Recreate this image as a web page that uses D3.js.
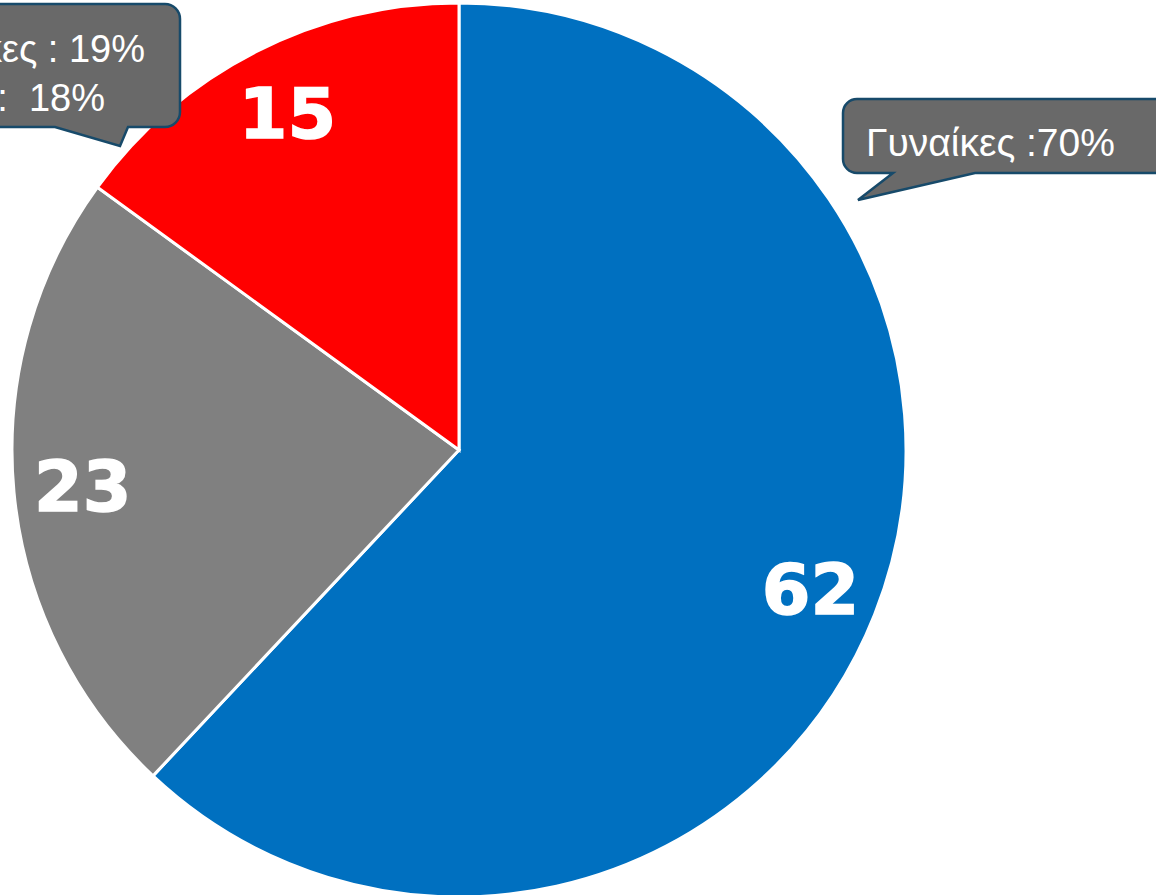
<!DOCTYPE html>
<html>
<head>
<meta charset="utf-8">
<script src="https://cdn.jsdelivr.net/npm/d3@7"></script>
<style>
  body { margin: 0; background: #fff; overflow: hidden; }
</style>
</head>
<body>
<div id="chart"></div>
<script>
// slice values, clockwise from 12 o'clock
const values = [62, 23, 15];
const sliceColors = ["#0070C0", "#808080", "#FF0000"];
// callout texts
const calloutRight = ["Γυναίκες :70%"];
const calloutLeft = ["Γυναίκες : 19%", "Άνδρες :  18%"];

const width = 1156, height = 895;
const cx = 459, cy = 450, radius = 447;

const svg = d3.select("#chart").append("svg")
    .attr("width", width)
    .attr("height", height);

const g = svg.append("g")
    .attr("transform", `translate(${cx},${cy})`);

const pie = d3.pie().sort(null).value(d => d);
const arc = d3.arc().innerRadius(0).outerRadius(radius);
const labelArc = d3.arc().innerRadius(378).outerRadius(378);

const arcs = pie(values);

g.selectAll("path.slice")
    .data(arcs)
    .enter().append("path")
    .attr("class", "slice")
    .attr("d", arc)
    .attr("fill", (d, i) => sliceColors[i])
    .attr("stroke", "#fff")
    .attr("stroke-width", 3);

g.selectAll("text.val")
    .data(arcs)
    .enter().append("text")
    .attr("class", "val")
    .attr("transform", d => `translate(${labelArc.centroid(d)})`)
    .attr("text-anchor", "middle")
    .attr("dy", "0.36em")
    .attr("fill", "#fff")
    .attr("stroke", "#fff")
    .attr("stroke-width", 1.5)
    .style("font-family", "'DejaVu Sans', sans-serif")
    .style("font-weight", "bold")
    .style("font-size", "70px")
    .text(d => d.data);

// rounded box with a wedge tail on its bottom edge
function callout(x0, y0, x1, y1, r, t0, t1, tip) {
    const p = d3.path();
    p.moveTo(x0 + r, y0);
    p.lineTo(x1 - r, y0);
    p.arcTo(x1, y0, x1, y0 + r, r);
    p.lineTo(x1, y1 - r);
    p.arcTo(x1, y1, x1 - r, y1, r);
    p.lineTo(t1, y1);
    p.lineTo(tip[0], tip[1]);
    p.lineTo(t0, y1);
    p.lineTo(x0 + r, y1);
    p.arcTo(x0, y1, x0, y1 - r, r);
    p.lineTo(x0, y0 + r);
    p.arcTo(x0, y0, x0 + r, y0, r);
    p.closePath();
    return p.toString();
}

const boxStyle = sel => sel
    .attr("fill", "#696969")
    .attr("stroke", "#174a6a")
    .attr("stroke-width", 2.5);

// right callout
svg.append("path")
    .attr("d", callout(843, 99, 1175, 173, 14, 893, 975, [858, 200]))
    .call(boxStyle);

svg.append("text")
    .attr("x", 866)
    .attr("y", 156)
    .attr("fill", "#fff")
    .style("font-family", "'Liberation Sans', Arial, sans-serif")
    .style("font-size", "39px")
    .text(calloutRight[0]);

// left callout (partly off canvas)
svg.append("path")
    .attr("d", callout(-60, 4, 180, 127, 15, 55, 128, [120, 146]))
    .call(boxStyle);

svg.selectAll("text.lft")
    .data(calloutLeft)
    .enter().append("text")
    .attr("class", "lft")
    .attr("x", (d, i) => i === 0 ? 145 : 105)
    .attr("y", (d, i) => 62 + i * 49)
    .attr("text-anchor", "end")
    .attr("fill", "#fff")
    .style("font-family", "'Liberation Sans', Arial, sans-serif")
    .style("font-size", "38px")
    .style("white-space", "pre")
    .text(d => d);
</script>
</body>
</html>
